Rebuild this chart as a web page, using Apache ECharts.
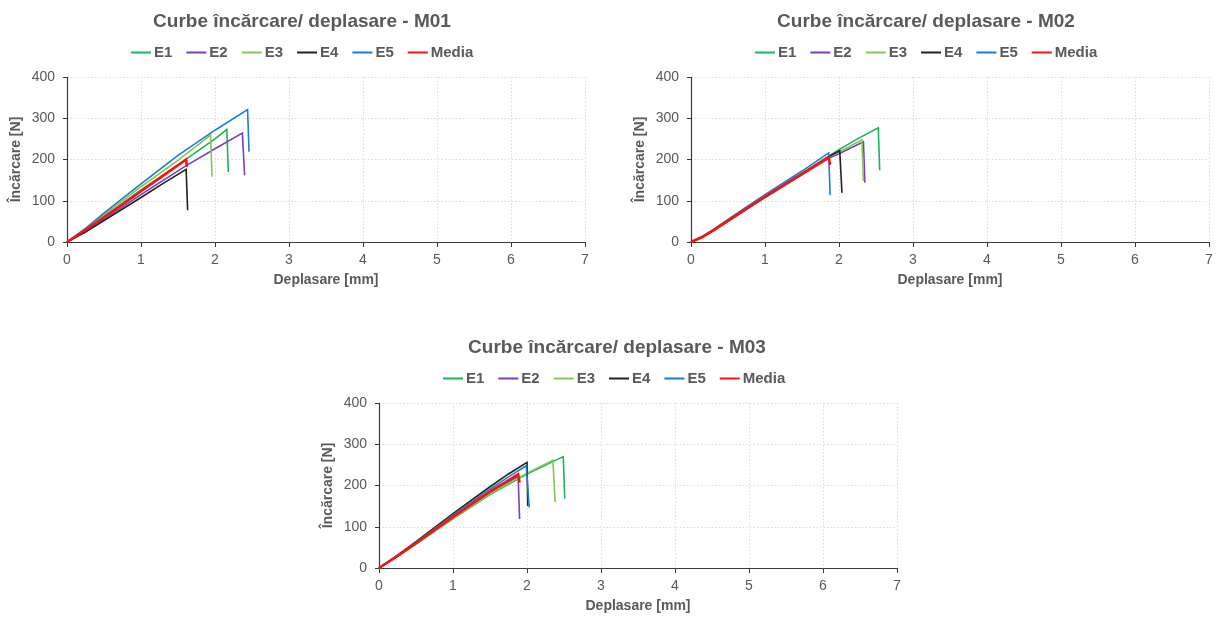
<!DOCTYPE html>
<html>
<head>
<meta charset="utf-8">
<script src="https://cdn.jsdelivr.net/npm/echarts@6/dist/echarts.min.js"></script>
<style>
  html, body { margin: 0; padding: 0; background: #ffffff; }
  #chart { width: 1217px; height: 617px; }
</style>
</head>
<body>
<div id="chart"></div>
<script>
// Load / displacement curves for three material batches (M01, M02, M03),
// five specimens each (E1..E5) plus the mean curve (Media).

const seriesNames = ['E1', 'E2', 'E3', 'E4', 'E5', 'Media'];
const chartTitles = [
  'Curbe încărcare/ deplasare - M01',
  'Curbe încărcare/ deplasare - M02',
  'Curbe încărcare/ deplasare - M03'
];
const xTicks = [0, 1, 2, 3, 4, 5, 6, 7];
const yTicks = [0, 100, 200, 300, 400];

// [deplasare mm, încărcare N]
const m01_E1 = [[0,0],[0.25,30],[0.5,62],[0.75,94],[1.0,126],[1.5,187],[2.0,250],[2.16,273],[2.18,170]];
const m01_E2 = [[0,0],[0.25,27],[0.5,56],[0.75,85],[1.0,115],[1.6,184],[2.0,226],[2.37,264],[2.40,162]];
const m01_E3 = [[0,0],[0.25,32],[0.5,66],[1.0,134],[1.5,198],[1.94,259],[1.96,158]];
const m01_E4 = [[0,0],[0.25,24],[0.5,52],[0.75,80],[1.0,108],[1.3,142],[1.61,176],[1.63,77]];
const m01_E5 = [[0,0],[0.25,33],[0.5,70],[0.75,106],[1.0,141],[1.5,210],[2.0,271],[2.44,321],[2.46,219]];
const m01_Media = [[0,0],[0.25,29],[0.5,60],[0.75,91],[1.0,123],[1.3,161],[1.61,200],[1.62,182]];

const m02_E1 = [[0,0],[0.15,12],[0.3,28],[0.5,52],[0.75,81],[1.0,111],[1.5,167],[1.86,208],[2.0,224],[2.25,250],[2.53,277],[2.55,174]];
const m02_E2 = [[0,0],[0.15,11],[0.3,27],[0.5,50],[0.75,79],[1.0,108],[1.5,163],[1.86,203],[2.0,214],[2.33,243],[2.35,144]];
const m02_E3 = [[0,0],[0.15,12],[0.3,28],[0.5,51],[0.75,80],[1.0,110],[1.5,165],[1.86,206],[2.0,218],[2.31,248],[2.33,148]];
const m02_E4 = [[0,0],[0.15,12],[0.3,28],[0.5,51],[0.75,80],[1.0,109],[1.5,165],[1.86,207],[2.01,221],[2.04,119]];
const m02_E5 = [[0,0],[0.15,13],[0.3,30],[0.5,55],[0.75,85],[1.0,115],[1.5,172],[1.86,216],[1.88,114]];
const m02_Media = [[0,0],[0.15,12],[0.3,28],[0.5,52],[0.75,81],[1.0,110],[1.5,165],[1.86,205],[1.88,187]];

const m03_E1 = [[0,0],[0.25,28],[0.5,58],[0.75,89],[1.0,119],[1.5,178],[2.0,228],[2.49,270],[2.51,168]];
const m03_E2 = [[0,0],[0.25,29],[0.5,60],[0.75,91],[1.0,122],[1.5,181],[1.88,222],[1.90,119]];
const m03_E3 = [[0,0],[0.25,28],[0.5,58],[0.75,89],[1.0,120],[1.5,180],[2.0,230],[2.35,261],[2.38,160]];
const m03_E4 = [[0,0],[0.25,31],[0.5,64],[0.75,98],[1.0,132],[1.5,197],[1.75,228],[2.0,256],[2.01,150]];
const m03_E5 = [[0,0],[0.25,30],[0.5,62],[0.75,95],[1.0,128],[1.5,191],[1.75,221],[1.99,248],[2.03,147]];
const m03_Media = [[0,0],[0.25,29],[0.5,60],[0.75,92],[1.0,124],[1.5,185],[1.88,227],[1.90,207]];

const batches = [
  [m01_E1, m01_E2, m01_E3, m01_E4, m01_E5, m01_Media],
  [m02_E1, m02_E2, m02_E3, m02_E4, m02_E5, m02_Media],
  [m03_E1, m03_E2, m03_E3, m03_E4, m03_E5, m03_Media]
];

const colors = ['#1db35a', '#7a3fb8', '#86c456', '#222222', '#1a7fcc', '#ff1010'];
const widths = [1.6, 1.6, 1.6, 1.6, 1.6, 2.6];
const textColor = '#595959';
const font = '"Liberation Sans", Arial, sans-serif';

// Panel layout: plot rectangles (left, top, width, height)
const panels = [
  { left: 67,  top: 77,  width: 518, height: 165, titleX: 297, titleY: 7,   legendX: 126, legendY: 40 },
  { left: 691, top: 77,  width: 518, height: 165, titleX: 921, titleY: 7,   legendX: 750, legendY: 40 },
  { left: 379, top: 403, width: 518, height: 165, titleX: 612, titleY: 333, legendX: 438, legendY: 366 }
];

const option = {
  animation: false,
  backgroundColor: '#ffffff',
  color: colors,
  title: panels.map((p, i) => ({
    text: chartTitles[i],
    left: p.titleX,
    top: p.titleY,
    textAlign: 'center',
    textStyle: { fontFamily: font, fontWeight: 'bold', fontSize: 19, color: textColor }
  })),
  legend: panels.map(p => ({
    data: seriesNames,
    left: p.legendX,
    top: p.legendY,
    icon: 'rect',
    itemWidth: 20,
    itemHeight: 2,
    itemGap: 14,
    textStyle: { fontFamily: font, fontWeight: 'bold', fontSize: 15, color: textColor, padding: [0, 0, 0, -2] },
    selectedMode: false
  })),
  grid: panels.map(p => ({ left: p.left, top: p.top, width: p.width, height: p.height, containLabel: false })),
  xAxis: panels.map((p, i) => ({
    type: 'value',
    gridIndex: i,
    min: xTicks[0],
    max: xTicks[xTicks.length - 1],
    interval: 1,
    name: 'Deplasare [mm]',
    nameLocation: 'middle',
    nameGap: 31,
    nameTextStyle: { fontFamily: font, fontWeight: 'bold', fontSize: 14, color: textColor },
    axisLine: { show: true, onZero: false, lineStyle: { color: '#3a3a3a', width: 1.2 } },
    axisTick: { show: true, length: 5, lineStyle: { color: '#3a3a3a' } },
    axisLabel: { fontFamily: font, fontSize: 14, color: textColor, margin: 11 },
    splitLine: { show: true, lineStyle: { color: '#dadada', type: [1.5, 2], width: 1 } }
  })),
  yAxis: panels.map((p, i) => ({
    type: 'value',
    gridIndex: i,
    min: yTicks[0],
    max: yTicks[yTicks.length - 1],
    interval: 100,
    name: 'Încărcare [N]',
    nameLocation: 'middle',
    nameGap: 44,
    nameTextStyle: { fontFamily: font, fontWeight: 'bold', fontSize: 14, color: textColor },
    axisLine: { show: true, lineStyle: { color: '#3a3a3a', width: 1.2 } },
    axisTick: { show: true, length: 4, lineStyle: { color: '#3a3a3a' } },
    axisLabel: { fontFamily: font, fontSize: 14, color: textColor, margin: 12 },
    splitLine: { show: true, lineStyle: { color: '#dadada', type: [1.5, 2], width: 1 } }
  })),
  series: []
};

batches.forEach((set, gi) => {
  set.forEach((pts, si) => {
    option.series.push({
      name: seriesNames[si],
      type: 'line',
      xAxisIndex: gi,
      yAxisIndex: gi,
      data: pts,
      showSymbol: false,
      symbol: 'none',
      z: 2 + si,
      lineStyle: { color: colors[si], width: widths[si], join: 'miter' },
      itemStyle: { color: colors[si] }
    });
  });
});

const chart = echarts.init(document.getElementById('chart'), null, { renderer: 'canvas' });
chart.setOption(option);
</script>
</body>
</html>
